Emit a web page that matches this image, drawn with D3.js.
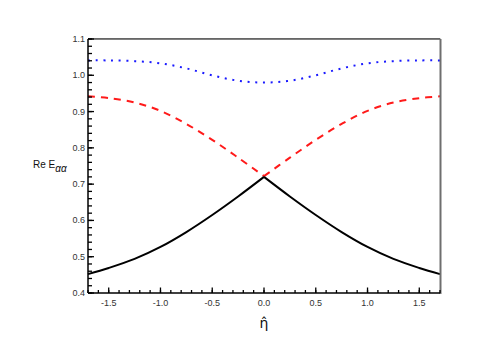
<!DOCTYPE html>
<html>
<head>
<meta charset="utf-8">
<script src="https://cdn.jsdelivr.net/npm/d3@7"></script>
<style>
  body { margin: 0; background: #fff; }
  svg { display: block; }
  text { font-family: "Liberation Sans", Arial, sans-serif; }
</style>
</head>
<body>
<div id="chart"></div>
<script>
// eta-hat sample positions
const etaLeft = [-1.7, -1.5, -1.25, -1.0, -0.75, -0.5, -0.25, 0];
const etaRight = [0, 0.25, 0.5, 0.75, 1.0, 1.25, 1.5, 1.7];
const etaAll = [-1.7, -1.5, -1.25, -1.0, -0.75, -0.5, -0.25, 0, 0.25, 0.5, 0.75, 1.0, 1.25, 1.5, 1.7];

// solid black branch
const blackLeft = [0.452, 0.469, 0.494, 0.527, 0.568, 0.615, 0.666, 0.720];
const blackRight = [0.720, 0.666, 0.615, 0.568, 0.527, 0.494, 0.469, 0.452];
// dashed red branch
const redLeft = [0.942, 0.937, 0.925, 0.902, 0.866, 0.822, 0.773, 0.722];
const redRight = [0.722, 0.773, 0.822, 0.866, 0.902, 0.925, 0.937, 0.942];
// dotted blue branch
const blueAll = [1.041, 1.041, 1.039, 1.033, 1.019, 1.000, 0.985, 0.980, 0.985, 1.000, 1.019, 1.033, 1.039, 1.041, 1.041];

const xMajor = [-1.5, -1.0, -0.5, 0.0, 0.5, 1.0, 1.5];
const yMajor = [0.4, 0.5, 0.6, 0.7, 0.8, 0.9, 1.0, 1.1];

const width = 482, height = 338;
const margin = { left: 88, right: 42, top: 39, bottom: 45 };

const svg = d3.select("#chart").append("svg")
    .attr("width", width)
    .attr("height", height);

const x = d3.scaleLinear().domain([-1.7, 1.7]).range([margin.left, width - margin.right]);
const y = d3.scaleLinear().domain([0.4, 1.1]).range([height - margin.bottom, margin.top]);

// minor ticks
const xMinor = d3.range(-17, 18).map(d => d / 10);
const yMinor = d3.range(20, 56).map(d => d / 50);

const g = svg.append("g");

// curves
function drawLine(xs, ys, color, dash, curve) {
    const line = d3.line()
        .x((d, i) => x(xs[i]))
        .y(d => y(d))
        .curve(curve);
    g.append("path")
        .datum(ys)
        .attr("d", line)
        .attr("fill", "none")
        .attr("stroke", color)
        .attr("stroke-width", 2)
        .attr("stroke-dasharray", dash);
}

const smooth = d3.curveCatmullRom.alpha(0.5);
drawLine(etaAll, blueAll, "#1a1aff", "2,5.7", smooth);
drawLine(etaLeft, redLeft, "#ff1a1a", "7,6", smooth);
drawLine(etaRight, redRight, "#ff1a1a", "7,6", smooth);
drawLine(etaLeft, blackLeft, "#000", null, smooth);
drawLine(etaRight, blackRight, "#000", null, smooth);

// frame
const x0 = x.range()[0], x1 = x.range()[1], y0 = y.range()[0], y1 = y.range()[1];
svg.append("line").attr("x1", x0).attr("x2", x1 + 1).attr("y1", y1 - 0.5).attr("y2", y1 - 0.5)
    .attr("stroke", "#ccc").attr("stroke-width", 1);
svg.append("line").attr("x1", x0).attr("x2", x1).attr("y1", y1).attr("y2", y1)
    .attr("stroke", "#000").attr("stroke-width", 1.2);
svg.append("line").attr("x1", x1 + 0.5).attr("x2", x1 + 0.5).attr("y1", y1).attr("y2", y0 + 1)
    .attr("stroke", "#6e6e6e").attr("stroke-width", 2);

// bottom axis
const xAxis = svg.append("g").attr("transform", `translate(0,${y0})`);
xAxis.append("line").attr("x1", x0).attr("x2", x1).attr("stroke", "#000").attr("stroke-width", 1.5);
xAxis.selectAll(".minor").data(xMinor).enter().append("line")
    .attr("x1", d => x(d)).attr("x2", d => x(d))
    .attr("y1", 0).attr("y2", -3)
    .attr("stroke", "#000").attr("stroke-width", 1.3);
xAxis.selectAll(".major").data(xMajor).enter().append("line")
    .attr("x1", d => x(d)).attr("x2", d => x(d))
    .attr("y1", 0).attr("y2", -5.5)
    .attr("stroke", "#000").attr("stroke-width", 1.3);
xAxis.selectAll("text").data(xMajor).enter().append("text")
    .attr("x", d => x(d))
    .attr("y", 13)
    .attr("text-anchor", "middle")
    .attr("font-size", 9)
    .attr("fill", "#333")
    .text(d => d3.format(".1f")(d).replace("−", "-"));

// left axis
const yAxis = svg.append("g").attr("transform", `translate(${x0},0)`);
yAxis.append("line").attr("y1", y0).attr("y2", y1).attr("stroke", "#000").attr("stroke-width", 1.5);
yAxis.selectAll(".minor").data(yMinor).enter().append("line")
    .attr("y1", d => y(d)).attr("y2", d => y(d))
    .attr("x1", 0).attr("x2", 4)
    .attr("stroke", "#000").attr("stroke-width", 1.3);
yAxis.selectAll(".major").data(yMajor).enter().append("line")
    .attr("y1", d => y(d)).attr("y2", d => y(d))
    .attr("x1", 0).attr("x2", 6)
    .attr("stroke", "#000").attr("stroke-width", 1.3);
yAxis.selectAll("text").data(yMajor).enter().append("text")
    .attr("x", -3)
    .attr("y", d => y(d) + 3)
    .attr("text-anchor", "end")
    .attr("font-size", 9)
    .attr("fill", "#333")
    .text(d => d3.format(".1f")(d));

// axis titles
const yTitle = svg.append("text")
    .attr("x", 33)
    .attr("y", 168)
    .attr("font-size", 10)
    .attr("fill", "#111");
yTitle.append("tspan").text("Re E");
yTitle.append("tspan").attr("dy", 4).attr("font-size", 10).attr("font-style", "italic").text("αα");

svg.append("text")
    .attr("x", x(0))
    .attr("y", 328)
    .attr("text-anchor", "middle")
    .attr("font-size", 14)
    .attr("fill", "#111")
    .style("font-family", "'DejaVu Sans', sans-serif")
    .text("η\u0302");
</script>
</body>
</html>
